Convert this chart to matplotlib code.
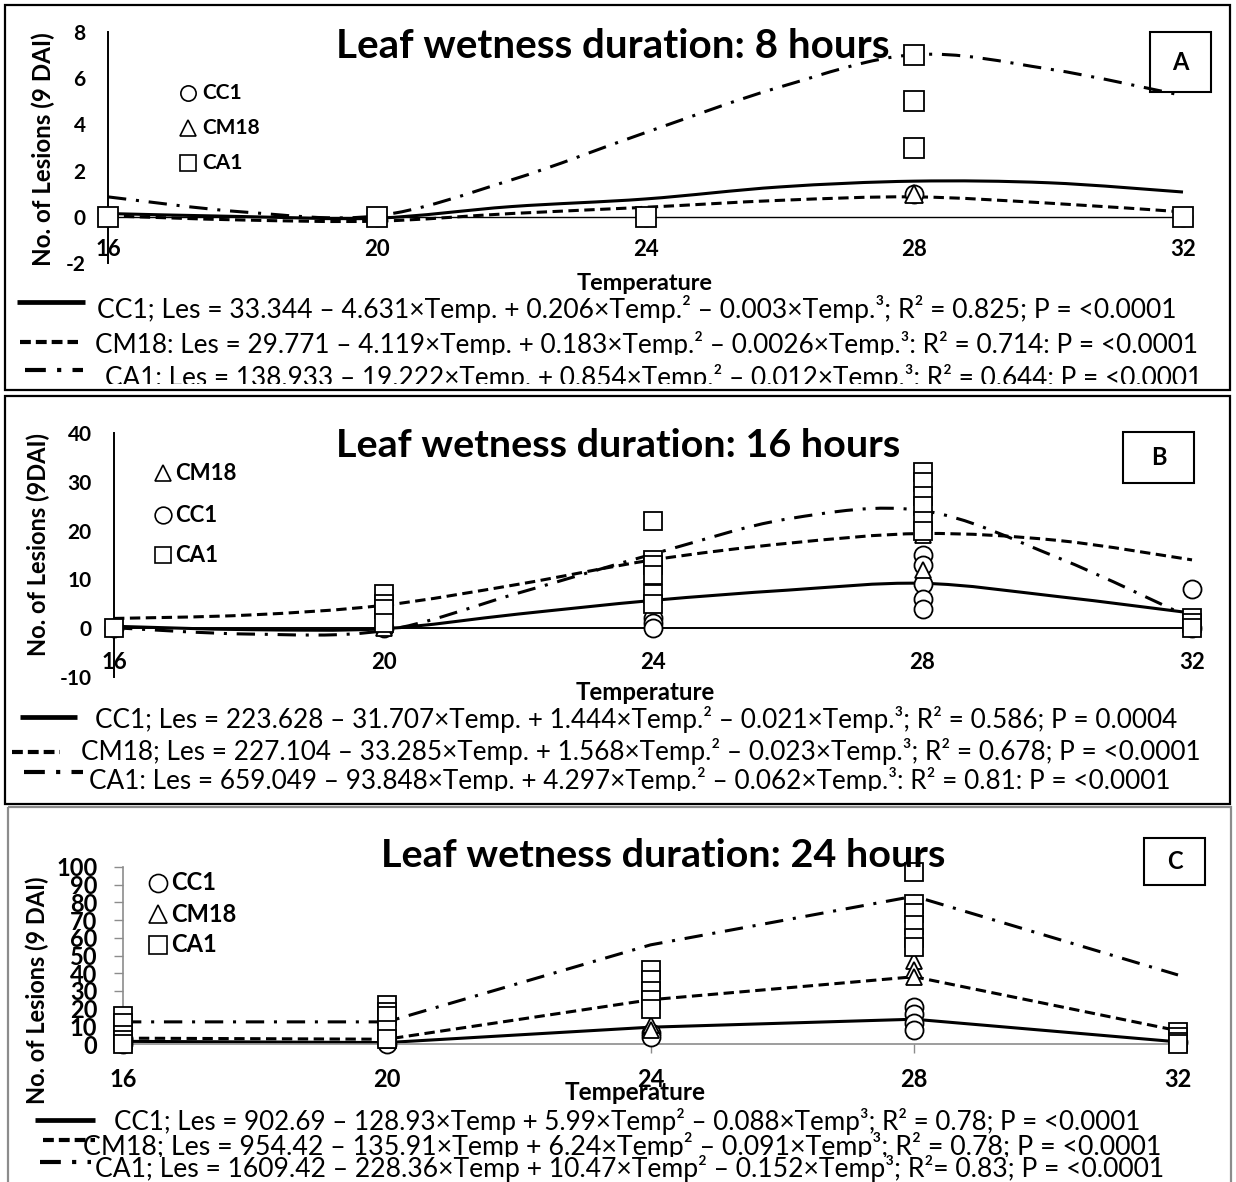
import matplotlib
matplotlib.use("Agg")
import matplotlib.pyplot as plt
import numpy as np
from matplotlib.lines import Line2D
from matplotlib.patches import PathPatch, Rectangle
from matplotlib.path import Path

plt.rcParams["font.family"] = ["Lato", "DejaVu Sans"]

W, H = 1236, 1182

TEMPS = [16, 20, 24, 28, 32]
FIT_T = [16, 18, 20, 22, 24, 26, 28, 30, 32]

# --- 8 h leaf wetness: replicate lesion counts ---
A_CC1_T = [16, 20, 24, 28, 32]
A_CC1_N = [0, 0, 0, 1, 0]
A_CM18_T = [16, 20, 24, 28, 32]
A_CM18_N = [0, 0, 0, 1, 0]
A_CA1_T = [16, 20, 24, 28, 28, 28, 32]
A_CA1_N = [0, 0, 0, 7, 5, 3, 0]
# fitted cubic, read along FIT_T
A_FIT_CC1 = [0.15, 0.02, -0.05, 0.45, 0.78, 1.3, 1.55, 1.48, 1.08]
A_FIT_CM18 = [0.05, -0.13, -0.18, 0.15, 0.42, 0.72, 0.87, 0.6, 0.22]
A_FIT_CA1 = [0.87, 0.22, 0.05, 1.6, 3.65, 5.62, 7.02, 6.4, 5.25]

# --- 16 h leaf wetness ---
B_CC1_T = [16, 20, 24, 24, 24, 28, 28, 28, 28, 28, 32, 32]
B_CC1_N = [0, 0, 2, 1, 0, 15, 13, 9, 6, 4, 8, 0]
B_CM18_T = [16, 20, 24, 28, 28, 32]
B_CM18_N = [0, 0, 5, 19, 12, 0]
B_CA1_T = [16, 20, 20, 20, 20, 24, 24, 24, 24, 24, 24,
           28, 28, 28, 28, 28, 28, 32, 32, 32]
B_CA1_N = [0, 7, 5, 4, 1, 22, 14, 13, 11, 7, 5,
           32, 30, 27, 25, 22, 20, 2, 1, 0]
B_FIT_CC1 = [0.4, -0.3, -0.1, 2.9, 5.7, 7.8, 9.2, 6.5, 3.1]
B_FIT_CM18 = [2.0, 2.7, 4.7, 9.0, 14.0, 17.4, 19.4, 18.0, 14.0]
B_FIT_CA1 = [0.1, -1.2, -0.5, 7.2, 15.2, 22.4, 24.1, 14.5, 2.0]

# --- 24 h leaf wetness ---
C_CC1_T = [16, 16, 20, 24, 24, 28, 28, 28, 28, 32]
C_CC1_N = [2, 0, 0, 6, 4, 21, 17, 12, 8, 1]
C_CM18_T = [16, 16, 20, 24, 24, 28, 28, 28, 32]
C_CM18_N = [3, 1, 2, 11, 8, 47, 42, 38, 4]
C_CA1_T = [16, 16, 16, 16, 16, 20, 20, 20, 20, 20, 24, 24, 24, 24, 24,
           28, 28, 28, 28, 28, 28, 32, 32, 32, 32]
C_CA1_N = [16, 12, 5, 2, 0, 22, 18, 16, 8, 3, 42, 36, 30, 25, 20,
           97, 79, 74, 67, 60, 55, 7, 4, 1, 0]
C_FIT_CC1 = [1.5, 0.8, 9.5, 14.0, 1.2]
C_FIT_CM18 = [3.3, 2.7, 25.0, 38.0, 7.5]
C_FIT_CA1 = [12.5, 12.5, 56.0, 83.5, 39.0]

EQ_A = [
    "CC1; Les = 33.344 – 4.631×Temp. + 0.206×Temp.² – 0.003×Temp.³; R² = 0.825; P = <0.0001",
    "CM18: Les = 29.771 – 4.119×Temp. + 0.183×Temp.² – 0.0026×Temp.³: R² = 0.714: P = <0.0001",
    "CA1: Les = 138.933 – 19.222×Temp. + 0.854×Temp.² – 0.012×Temp.³: R² = 0.644: P = <0.0001",
]
EQ_B = [
    "CC1; Les = 223.628 – 31.707×Temp. + 1.444×Temp.² – 0.021×Temp.³; R² = 0.586; P = 0.0004",
    "CM18; Les = 227.104 – 33.285×Temp. + 1.568×Temp.² – 0.023×Temp.³; R² = 0.678; P = <0.0001",
    "CA1: Les = 659.049 – 93.848×Temp. + 4.297×Temp.² – 0.062×Temp.³: R² = 0.81: P = <0.0001",
]
EQ_C = [
    "CC1; Les = 902.69 – 128.93×Temp + 5.99×Temp² – 0.088×Temp³; R² = 0.78; P = <0.0001",
    "CM18; Les = 954.42 – 135.91×Temp + 6.24×Temp² – 0.091×Temp³; R² = 0.78; P = <0.0001",
    "CA1; Les = 1609.42 – 228.36×Temp + 10.47×Temp² – 0.152×Temp³; R²= 0.83; P = <0.0001",
]

SOLID = dict(color="black", lw=2.2, linestyle="-")
DASHED = dict(color="black", lw=2.2, linestyle=(0, (3.4, 1.8)))
DASHDOT = dict(color="black", lw=2.2, linestyle=(0, (6.0, 3.2, 1.0, 3.2)))
GREY = "#8c8c8c"

fig = plt.figure(figsize=(W / 100, H / 100), dpi=100)
fig.patch.set_facecolor("white")
renderer = fig.canvas.get_renderer()


def px_box(x0, y0, x1, y1):
    """Figure-fraction rect from pixel corners (y measured downwards)."""
    return [x0 / W, 1 - y1 / H, (x1 - x0) / W, (y1 - y0) / H]


def pixel_axes(x0, y0, x1, y1, z=6):
    a = fig.add_axes(px_box(x0, y0, x1, y1), zorder=z)
    a.set_xlim(x0, x1)
    a.set_ylim(y1, y0)
    a.axis("off")
    return a


ov = pixel_axes(0, 0, W, H, z=5)


def fit(txt, target, along="x"):
    bb = txt.get_window_extent(renderer)
    size = bb.width if along == "x" else bb.height
    txt.set_fontsize(txt.get_fontsize() * target / size)


def smooth_curve(ax, xs, ys, style):
    p = np.column_stack([xs, ys]).astype(float)
    ext = np.vstack([p[:1], p, p[-1:]])
    verts, codes = [p[0]], [Path.MOVETO]
    for i in range(len(p) - 1):
        p0, p1, p2, p3 = ext[i:i + 4]
        verts += [p1 + (p2 - p0) / 6, p2 - (p3 - p1) / 6, p2]
        codes += [Path.CURVE4] * 3
    ax.add_patch(PathPatch(Path(verts, codes), fill=False, clip_on=False,
                           capstyle="butt", zorder=2, **style))


def scatter(ax, t, n, marker, ms, z):
    ax.plot(t, n, ls="none", marker=marker, ms=ms, mfc="white", mec="black",
            mew=1.3, clip_on=False, zorder=z)


def panel_text(title, t_x0, t_x1, t_base, letter, lbox, ylab, ylab_xy, ylab_len,
               temp_xy, temp_w):
    t = ov.text(t_x0, t_base, title, fontsize=24, fontweight="bold",
                ha="left", va="baseline")
    fit(t, t_x1 - t_x0)
    x0, y0, x1, y1 = lbox
    ov.add_patch(Rectangle((x0, y0), x1 - x0, y1 - y0, fill=False, ec="black", lw=1.5))
    ov.text((x0 + x1) / 2, (y0 + y1) / 2, letter, fontsize=17, fontweight="bold",
            ha="center", va="center")
    yl = ov.text(*ylab_xy, ylab, rotation=90, fontsize=15, fontweight="bold",
                 ha="center", va="center")
    fit(yl, ylab_len, along="y")
    tt = ov.text(*temp_xy, "Temperature", fontsize=14, fontweight="bold",
                 ha="center", va="center")
    fit(tt, temp_w)


def legend(entries, mx, tx, fs, ms):
    for marker, label, y in entries:
        ov.plot([mx], [y], ls="none", marker=marker, ms=ms, mfc="white",
                mec="black", mew=1.2)
        ov.text(tx, y, label, fontsize=fs, fontweight="bold", ha="left", va="center")


def equations(lines, samples):
    for (txt, x0, x1, base, clip), (style, sx0, sx1, sy) in zip(lines, samples):
        a = pixel_axes(0, base - 40, W, clip)
        t = a.text(x0, base, txt, fontsize=15, ha="left", va="baseline", clip_on=True)
        fit(t, x1 - x0)
        ov.add_line(Line2D([sx0, sx1], [sy, sy], solid_capstyle="butt",
                           dash_capstyle="butt", **style))


def style_ticks(ax, xfs, yfs, yvals):
    ax.set_xticks(TEMPS)
    ax.set_xticklabels([str(t) for t in TEMPS], fontsize=xfs, fontweight="bold")
    ax.set_yticks(yvals)
    ax.set_yticklabels([str(v) for v in yvals], fontsize=yfs, fontweight="bold")


SAMPLE_SOLID = dict(color="black", lw=3.4, linestyle="-")
SAMPLE_DASH = dict(color="black", lw=3.0, linestyle=(0, (2.6, 1.2)))
SAMPLE_DDOT = dict(color="black", lw=3.0, linestyle=(0, (5.0, 2.7, 1.0, 2.7)))

# ---------------------------------------------------------------- borders
ov.add_patch(Rectangle((5, 5), 1225, 385, fill=False, ec="black", lw=1.6))
ov.add_patch(Rectangle((5, 396), 1225, 408, fill=False, ec="black", lw=1.6))
ov.add_patch(Rectangle((8, 807), 1223, 400, fill=False, ec=GREY, lw=1.6))

# ---------------------------------------------------------------- panel A
axA = fig.add_axes(px_box(108, 32, 1183, 263.25), zorder=1)
axA.patch.set_alpha(0)
axA.set_xlim(16, 32)
axA.set_ylim(-2, 8)
for s in ("top", "right"):
    axA.spines[s].set_visible(False)
axA.spines["bottom"].set_position(("data", 0))
axA.spines["bottom"].set_linewidth(1.0)
axA.spines["left"].set_linewidth(1.4)
style_ticks(axA, 16, 15, [-2, 0, 2, 4, 6, 8])
axA.tick_params(axis="x", length=0, pad=16)
axA.tick_params(axis="y", length=0, pad=16)
smooth_curve(axA, FIT_T, A_FIT_CC1, SOLID)
smooth_curve(axA, FIT_T, A_FIT_CM18, DASHED)
smooth_curve(axA, FIT_T, A_FIT_CA1, DASHDOT)
scatter(axA, A_CC1_T, A_CC1_N, "o", 13, 3)
scatter(axA, A_CM18_T, A_CM18_N, "^", 13, 4)
scatter(axA, A_CA1_T, A_CA1_N, "s", 14, 5)

panel_text("Leaf wetness duration: 8 hours", 336, 890, 58, "A",
           (1150, 32, 1211, 92), "No. of Lesions (9 DAI)", (43, 149), 235,
           (645, 283), 137)
legend([("o", "CC1", 93), ("^", "CM18", 128), ("s", "CA1", 163)], 188, 202, 15, 11)
equations(
    [(EQ_A[0], 97, 1180, 318, 330), (EQ_A[1], 95, 1200, 353, 355),
     (EQ_A[2], 105, 1200, 386, 384)],
    [(SAMPLE_SOLID, 17, 85, 302), (SAMPLE_DASH, 20, 78, 342), (SAMPLE_DDOT, 25, 83, 370)])

# ---------------------------------------------------------------- panel B
axB = fig.add_axes(px_box(114, 433, 1192, 677), zorder=1)
axB.patch.set_alpha(0)
axB.set_xlim(16, 32)
axB.set_ylim(-10, 40)
for s in ("top", "right"):
    axB.spines[s].set_visible(False)
axB.spines["bottom"].set_position(("data", 0))
axB.spines["bottom"].set_linewidth(1.4)
axB.spines["left"].set_linewidth(1.4)
style_ticks(axB, 16, 15, [-10, 0, 10, 20, 30, 40])
axB.tick_params(axis="x", length=0, pad=17)
axB.tick_params(axis="y", length=0, pad=16)
smooth_curve(axB, FIT_T, B_FIT_CC1, SOLID)
smooth_curve(axB, FIT_T, B_FIT_CM18, DASHED)
smooth_curve(axB, FIT_T, B_FIT_CA1, DASHDOT)
scatter(axB, B_CC1_T, B_CC1_N, "o", 13, 3)
scatter(axB, B_CM18_T, B_CM18_N, "^", 12, 4)
scatter(axB, B_CA1_T, B_CA1_N, "s", 13, 5)

panel_text("Leaf wetness duration: 16 hours", 336, 900, 457, "B",
           (1123, 432, 1194, 483), "No. of Lesions (9DAI)", (38, 545), 224,
           (645, 693), 140)
legend([("^", "CM18", 473), ("o", "CC1", 515), ("s", "CA1", 555)], 163, 175, 16, 12)
equations(
    [(EQ_B[0], 95, 1176, 728, 740), (EQ_B[1], 81, 1201, 760, 770),
     (EQ_B[2], 89, 1172, 789, 791)],
    [(SAMPLE_SOLID, 20, 77, 717), (SAMPLE_DASH, 12, 60, 752), (SAMPLE_DDOT, 24, 83, 772)])

# ---------------------------------------------------------------- panel C
axC = fig.add_axes(px_box(123, 867, 1178, 1044), zorder=1)
axC.patch.set_alpha(0)
axC.set_xlim(16, 32)
axC.set_ylim(0, 100)
for s in ("top", "right"):
    axC.spines[s].set_visible(False)
for s in ("bottom", "left"):
    axC.spines[s].set_color(GREY)
    axC.spines[s].set_linewidth(1.2)
style_ticks(axC, 17, 17, list(range(0, 101, 10)))
axC.tick_params(axis="both", direction="out", length=6.5, width=1.0, color=GREY)
axC.tick_params(axis="x", pad=11)
axC.tick_params(axis="y", pad=12)
axC.plot(TEMPS, C_FIT_CC1, clip_on=False, zorder=2, **SOLID)
axC.plot(TEMPS, C_FIT_CM18, clip_on=False, zorder=2, **DASHED)
axC.plot(TEMPS, C_FIT_CA1, clip_on=False, zorder=2, **DASHDOT)
scatter(axC, C_CC1_T, C_CC1_N, "o", 13, 3)
scatter(axC, C_CM18_T, C_CM18_N, "^", 12, 4)
scatter(axC, C_CA1_T, C_CA1_N, "s", 12.5, 5)

panel_text("Leaf wetness duration: 24 hours", 381, 945, 867, "C",
           (1144, 838, 1205, 885), "No. of Lesions (9 DAI)", (37, 990), 229,
           (635, 1093), 142)
legend([("o", "CC1", 883), ("^", "CM18", 914), ("s", "CA1", 945)], 158, 171, 17, 13)
equations(
    [(EQ_C[0], 114, 1143, 1130, 1136), (EQ_C[1], 83, 1163, 1155, 1157),
     (EQ_C[2], 95, 1166, 1177, 1182)],
    [(SAMPLE_SOLID, 35, 95, 1120), (SAMPLE_DASH, 43, 95, 1140), (SAMPLE_DDOT, 40, 91, 1162)])

fig.savefig("out.png", dpi=100, facecolor="white")
